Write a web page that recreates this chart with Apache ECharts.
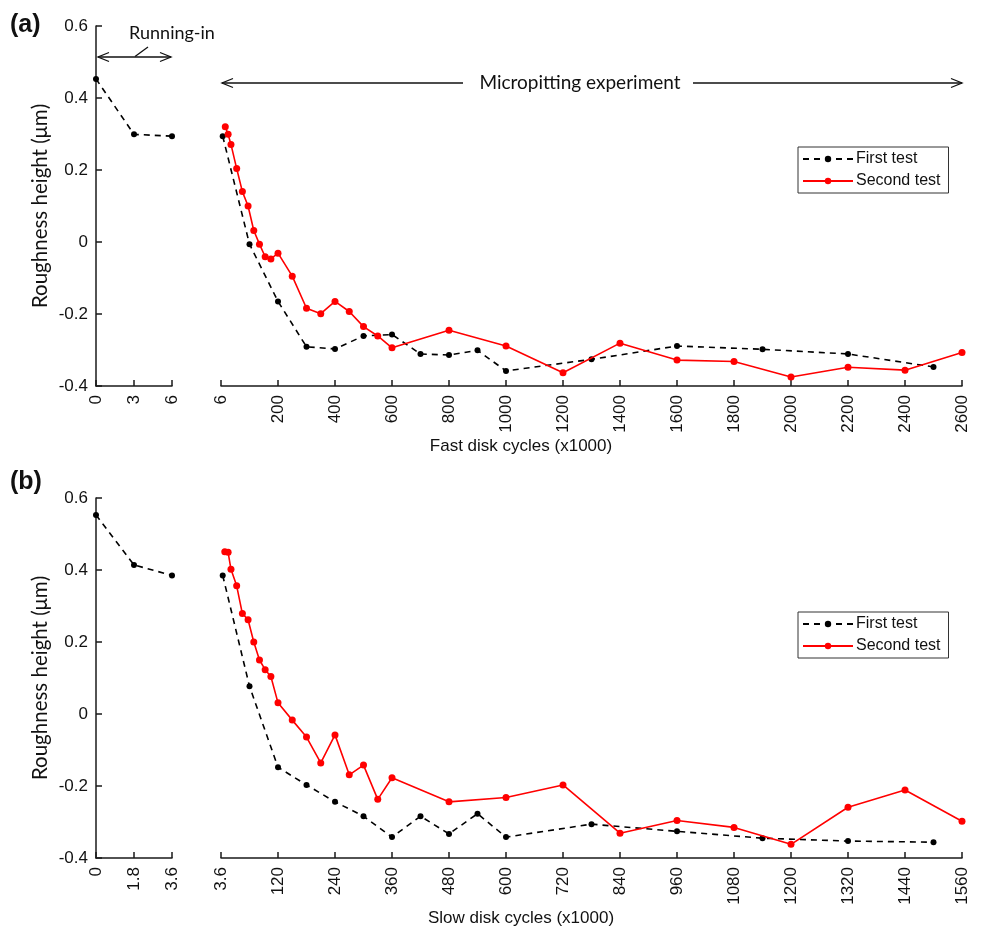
<!DOCTYPE html>
<html><head><meta charset="utf-8">
<script src="https://cdn.jsdelivr.net/npm/echarts@6/dist/echarts.min.js"></script>
<style>html,body{margin:0;padding:0;background:#fff}#c{width:982px;height:936px}</style>
</head><body><div id="c"></div>
<script>
// ---- Panel (a): fast disk ----
const fastRunX = [0, 3, 6];
const fastRunFirst = [0.453, 0.299, 0.294];
const fastFirstX = [6, 100, 200, 300, 400, 500, 600, 700, 800, 900, 1000, 1300, 1600, 1900, 2200, 2500];
const fastFirstY = [0.294, -0.006, -0.165, -0.291, -0.297, -0.261, -0.257, -0.311, -0.314, -0.301, -0.358, -0.326, -0.289, -0.298, -0.311, -0.347];
const fastSecondX = [15, 25, 35, 55, 75, 95, 115, 135, 155, 175, 200, 250, 300, 350, 400, 450, 500, 550, 600, 800, 1000, 1200, 1400, 1600, 1800, 2000, 2200, 2400, 2600];
const fastSecondY = [0.320, 0.299, 0.271, 0.204, 0.140, 0.100, 0.032, -0.006, -0.041, -0.047, -0.031, -0.095, -0.184, -0.199, -0.165, -0.193, -0.235, -0.261, -0.294, -0.245, -0.289, -0.363, -0.281, -0.328, -0.332, -0.375, -0.348, -0.356, -0.307];
const fastTickFirstLabel = '6';

// ---- Panel (b): slow disk ----
const slowRunX = [0, 1.8, 3.6];
const slowRunFirst = [0.553, 0.414, 0.385];
const slowFirstX = [3.6, 60, 120, 180, 240, 300, 360, 420, 480, 540, 600, 780, 960, 1140, 1320, 1500];
const slowFirstY = [0.385, 0.077, -0.148, -0.197, -0.244, -0.284, -0.342, -0.284, -0.333, -0.277, -0.342, -0.306, -0.326, -0.345, -0.353, -0.356];
const slowSecondX = [8, 15, 21, 33, 45, 57, 69, 81, 93, 105, 120, 150, 180, 210, 240, 270, 300, 330, 360, 480, 600, 720, 840, 960, 1080, 1200, 1320, 1440, 1560];
const slowSecondY = [0.451, 0.449, 0.402, 0.356, 0.279, 0.262, 0.200, 0.150, 0.123, 0.104, 0.031, -0.017, -0.064, -0.136, -0.058, -0.169, -0.142, -0.237, -0.177, -0.244, -0.232, -0.197, -0.331, -0.296, -0.315, -0.362, -0.259, -0.211, -0.298];
const slowTickFirstLabel = '3.6';

const seriesNames = ['First test', 'Second test'];
const yMin = -0.4, yMax = 0.6, yStep = 0.2;

const zip = (xs, ys) => xs.map((x, i) => [x, ys[i]]);
const AX = '#1a1a1a';
const FONT = 'Liberation Sans';

function xAxisCfg(grid, min, max, interval, firstLabel) {
  return {
    type: 'value', gridIndex: grid, min: min, max: max, interval: interval,
    axisLine: {show: true, onZero: false, lineStyle: {color: AX, width: 1.5}},
    axisTick: {show: true, inside: true, length: 6, lineStyle: {color: AX, width: 1.5}},
    splitLine: {show: false},
    axisLabel: {
      rotate: 90, margin: 9, color: '#111', fontFamily: FONT, fontSize: 17,
      formatter: v => (firstLabel !== null && v === 0) ? firstLabel : String(Math.round(v * 10) / 10)
    }
  };
}
function yAxisCfg(grid, visible) {
  return {
    type: 'value', gridIndex: grid, min: yMin, max: yMax, interval: yStep, show: visible,
    axisLine: {show: true, onZero: false, lineStyle: {color: AX, width: 1.5}},
    axisTick: {show: true, inside: true, length: 6, lineStyle: {color: AX, width: 1.5}},
    splitLine: {show: false},
    axisLabel: {margin: 8, color: '#111', fontFamily: FONT, fontSize: 17,
      formatter: v => String(Math.round(v * 10) / 10)}
  };
}
function blackSeries(idx, data) {
  return {
    name: seriesNames[0], type: 'line', xAxisIndex: idx, yAxisIndex: idx, data: data,
    symbol: 'circle', symbolSize: 6, showSymbol: true, z: 2,
    lineStyle: {color: '#000', width: 1.6, type: [6, 5]},
    itemStyle: {color: '#000'}
  };
}
function redSeries(idx, data) {
  return {
    name: seriesNames[1], type: 'line', xAxisIndex: idx, yAxisIndex: idx, data: data,
    symbol: 'circle', symbolSize: 7, showSymbol: true, z: 3,
    lineStyle: {color: '#f00', width: 1.6, type: 'solid'},
    itemStyle: {color: '#f00'}
  };
}
function legendCfg(top) {
  return {
    data: seriesNames, orient: 'vertical', left: 798, top: top,
    backgroundColor: '#fff', borderColor: '#333', borderWidth: 1,
    padding: [4, 8, 4, 4], itemGap: 6, itemWidth: 50, itemHeight: 8,
    textStyle: {fontFamily: FONT, fontSize: 16, color: '#111', padding: [0, 0, 0, -2]}
  };
}
function arrowHead(x, y, dir) {
  return {type: 'polyline', silent: true,
    shape: {points: [[x + dir * 11, y - 4.5], [x, y], [x + dir * 11, y + 4.5]]},
    style: {stroke: '#111', lineWidth: 1.3, fill: null}};
}
function line(x1, y1, x2, y2) {
  return {type: 'line', silent: true, shape: {x1, y1, x2, y2}, style: {stroke: '#111', lineWidth: 1.3}};
}

const chart = echarts.init(document.getElementById('c'), null, {renderer: 'canvas'});
chart.setOption({
  animation: false,
  backgroundColor: '#fff',
  grid: [
    {left: 96, top: 26, width: 76, height: 360},
    {left: 221, top: 26, width: 741, height: 360},
    {left: 96, top: 498, width: 76, height: 360},
    {left: 221, top: 498, width: 741, height: 360}
  ],
  xAxis: [
    xAxisCfg(0, 0, 6, 3, null),
    xAxisCfg(1, 0, 2600, 200, fastTickFirstLabel),
    xAxisCfg(2, 0, 3.6, 1.8, null),
    xAxisCfg(3, 0, 1560, 120, slowTickFirstLabel)
  ],
  yAxis: [yAxisCfg(0, true), yAxisCfg(1, false), yAxisCfg(2, true), yAxisCfg(3, false)],
  legend: [legendCfg(147), legendCfg(612)],
  series: [
    blackSeries(0, zip(fastRunX, fastRunFirst)),
    blackSeries(1, zip(fastFirstX, fastFirstY)),
    redSeries(1, zip(fastSecondX, fastSecondY)),
    blackSeries(2, zip(slowRunX, slowRunFirst)),
    blackSeries(3, zip(slowFirstX, slowFirstY)),
    redSeries(3, zip(slowSecondX, slowSecondY))
  ],
  graphic: [
    {type: 'text', left: 10, top: 13, style: {text: '(a)', font: 'bold 25px "Liberation Sans"', fill: '#111'}},
    {type: 'text', left: 10, top: 470, style: {text: '(b)', font: 'bold 25px "Liberation Sans"', fill: '#111'}},
    {type: 'text', x: 40, y: 206, rotation: Math.PI / 2,
      style: {text: 'Roughness height (μm)', font: '20.5px Lato', fill: '#111', textAlign: 'center', textVerticalAlign: 'middle'}},
    {type: 'text', x: 40, y: 678, rotation: Math.PI / 2,
      style: {text: 'Roughness height (μm)', font: '20.5px Lato', fill: '#111', textAlign: 'center', textVerticalAlign: 'middle'}},
    {type: 'text', x: 521, y: 446,
      style: {text: 'Fast disk cycles (x1000)', font: '17px "Liberation Sans"', fill: '#111', textAlign: 'center', textVerticalAlign: 'middle'}},
    {type: 'text', x: 521, y: 918,
      style: {text: 'Slow disk cycles (x1000)', font: '17px "Liberation Sans"', fill: '#111', textAlign: 'center', textVerticalAlign: 'middle'}},
    // Running-in annotation
    {type: 'text', x: 172, y: 33,
      style: {text: 'Running-in', font: '18px Lato', fill: '#111', textAlign: 'center', textVerticalAlign: 'middle'}},
    line(98, 57, 171, 57), arrowHead(98, 57, 1), arrowHead(171, 57, -1),
    line(148, 47, 135, 56.5),
    // Micropitting annotation
    {type: 'text', x: 580, y: 83,
      style: {text: 'Micropitting experiment', font: '19px Lato', fill: '#111', textAlign: 'center', textVerticalAlign: 'middle'}},
    line(222, 83, 463, 83), line(693, 83, 962, 83),
    arrowHead(222, 83, 1), arrowHead(962, 83, -1)
  ]
});
</script>
</body></html>
